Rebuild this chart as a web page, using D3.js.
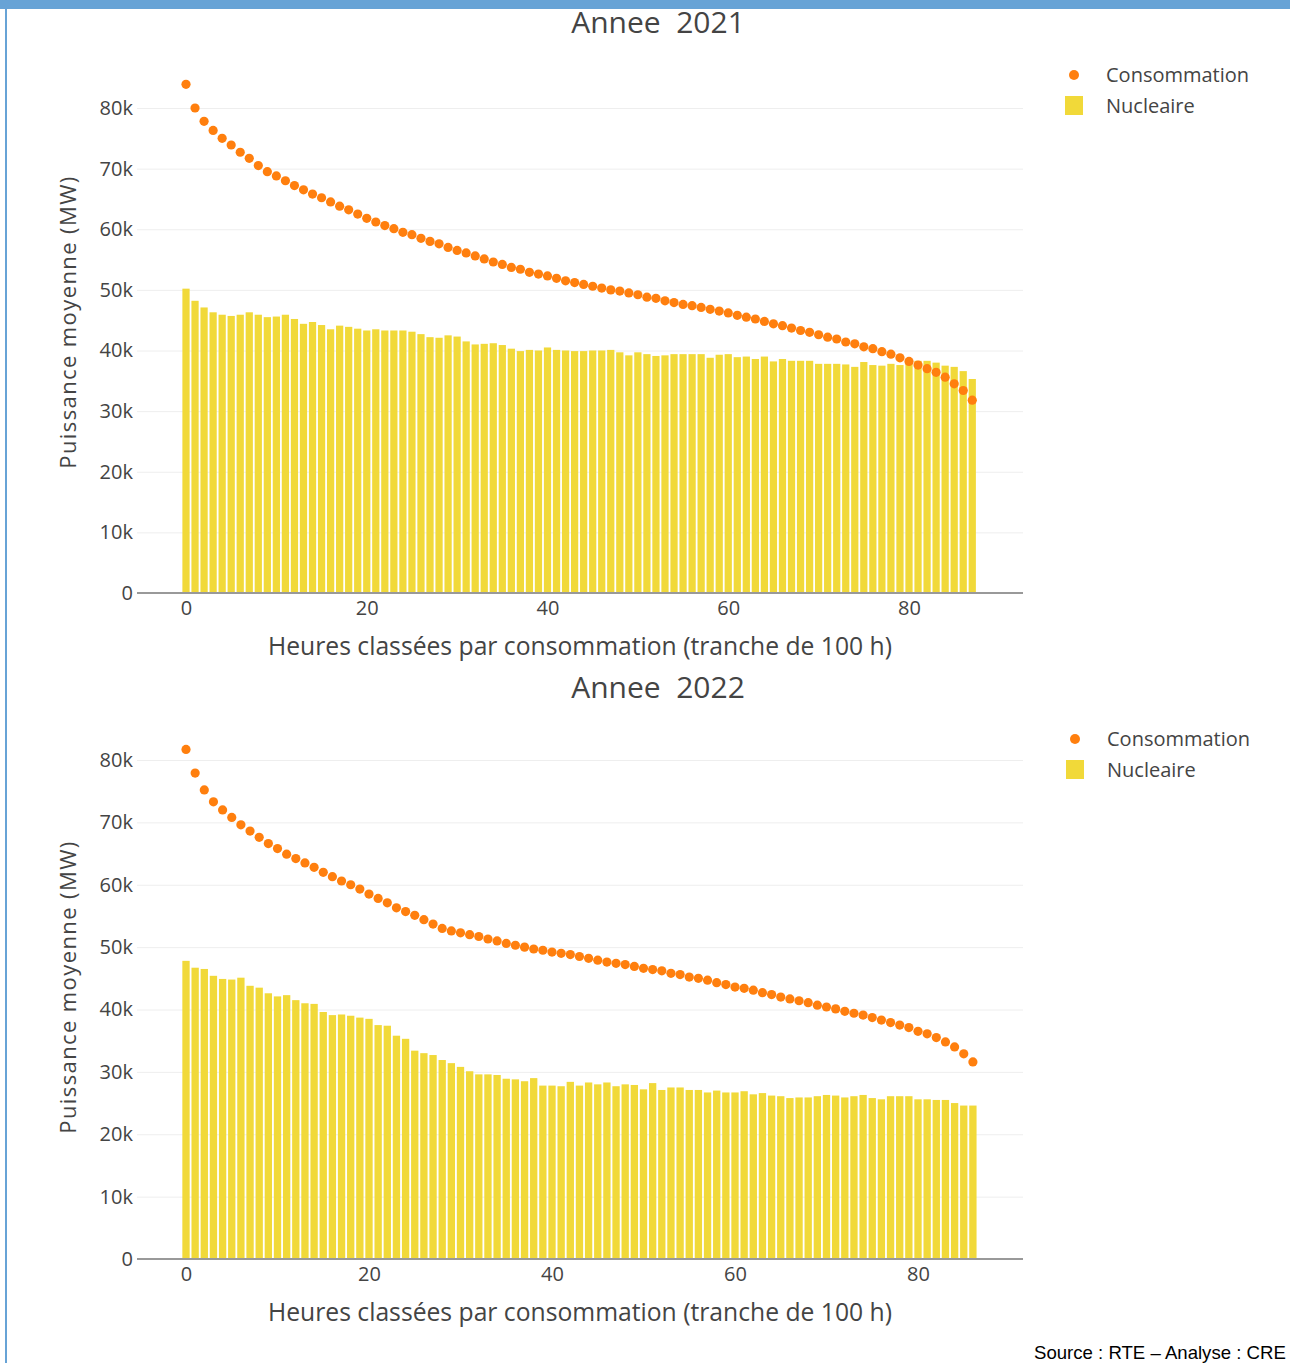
<!DOCTYPE html>
<html>
<head>
<meta charset="utf-8">
<script src="https://cdn.jsdelivr.net/npm/d3@7"></script>
<style>
  html, body { margin: 0; padding: 0; background: #fff; }
  svg { display: block; }
  text { font-family: "Open Sans", sans-serif; }
</style>
</head>
<body>
<svg id="chart" width="1290" height="1363"></svg>
<script>
// ---------- DATA (values in MW) ----------
const years = ["2021", "2022"];
const seriesNames = ["Consommation", "Nucleaire"];
const xTickValues = [0, 20, 40, 60, 80];
const yTickValues = [0, 10000, 20000, 30000, 40000, 50000, 60000, 70000, 80000];
const yTickLabels = ["0", "10k", "20k", "30k", "40k", "50k", "60k", "70k", "80k"];

const consommation2021 = [83.9, 80.0, 77.8, 76.3, 75.0, 73.9, 72.7, 71.7, 70.5, 69.5,
  68.8, 68.0, 67.2, 66.5, 65.8, 65.2, 64.5, 63.8, 63.2, 62.5,
  61.8, 61.2, 60.6, 60.1, 59.5, 59.1, 58.5, 58.0, 57.6, 57.0,
  56.5, 56.1, 55.6, 55.1, 54.6, 54.2, 53.7, 53.4, 52.9, 52.6,
  52.3, 51.9, 51.5, 51.2, 50.9, 50.6, 50.3, 50.0, 49.8, 49.5,
  49.2, 48.8, 48.6, 48.2, 47.9, 47.6, 47.4, 47.1, 46.8, 46.5,
  46.2, 45.8, 45.5, 45.2, 44.8, 44.4, 44.1, 43.7, 43.3, 43.0,
  42.6, 42.2, 41.9, 41.4, 41.1, 40.6, 40.3, 39.8, 39.4, 38.8,
  38.2, 37.6, 37.0, 36.4, 35.6, 34.5, 33.4, 31.8].map(v => v * 1000);

const nucleaire2021 = [50.2, 48.2, 47.1, 46.3, 45.9, 45.7, 45.9, 46.3, 45.9, 45.5,
  45.6, 45.9, 45.2, 44.4, 44.7, 44.2, 43.5, 44.1, 43.9, 43.6,
  43.3, 43.5, 43.3, 43.3, 43.3, 43.1, 42.7, 42.2, 42.1, 42.5,
  42.3, 41.5, 41.0, 41.1, 41.2, 40.9, 40.3, 39.9, 40.1, 40.0,
  40.5, 40.1, 40.0, 39.9, 39.9, 40.0, 40.0, 40.1, 39.7, 39.2,
  39.7, 39.4, 39.1, 39.2, 39.4, 39.4, 39.4, 39.4, 38.8, 39.3,
  39.4, 38.9, 39.0, 38.6, 39.0, 38.2, 38.6, 38.3, 38.3, 38.3,
  37.8, 37.8, 37.8, 37.7, 37.3, 38.1, 37.6, 37.5, 37.8, 37.6,
  38.3, 38.3, 38.3, 38.0, 37.5, 37.3, 36.6, 35.3].map(v => v * 1000);

const consommation2022 = [81.7, 77.9, 75.2, 73.3, 72.0, 70.8, 69.6, 68.6, 67.6, 66.6,
  65.8, 64.9, 64.2, 63.5, 62.8, 62.0, 61.3, 60.6, 60.0, 59.3,
  58.5, 57.8, 57.1, 56.3, 55.7, 55.1, 54.4, 53.7, 53.0, 52.6,
  52.3, 52.0, 51.7, 51.3, 51.0, 50.6, 50.3, 50.0, 49.7, 49.5,
  49.2, 49.0, 48.8, 48.5, 48.2, 47.9, 47.6, 47.4, 47.2, 46.9,
  46.6, 46.4, 46.2, 45.8, 45.6, 45.2, 45.0, 44.7, 44.3, 44.0,
  43.6, 43.4, 43.1, 42.7, 42.4, 42.0, 41.7, 41.4, 41.1, 40.7,
  40.4, 40.1, 39.7, 39.4, 39.1, 38.7, 38.3, 37.9, 37.5, 37.1,
  36.5, 36.1, 35.5, 34.8, 34.0, 32.9, 31.6].map(v => v * 1000);

const nucleaire2022 = [47.8, 46.7, 46.5, 45.4, 44.9, 44.8, 45.1, 43.8, 43.5, 42.6,
  42.1, 42.3, 41.5, 41.0, 40.9, 39.6, 39.1, 39.2, 39.0, 38.7,
  38.5, 37.5, 37.4, 35.8, 35.3, 33.4, 33.0, 32.7, 31.9, 31.4,
  30.8, 30.1, 29.6, 29.6, 29.5, 28.9, 28.8, 28.5, 29.0, 27.8,
  27.8, 27.7, 28.4, 27.8, 28.3, 28.0, 28.3, 27.7, 28.0, 27.9,
  27.2, 28.2, 27.1, 27.5, 27.5, 27.1, 27.1, 26.7, 27.0, 26.7,
  26.7, 26.9, 26.4, 26.6, 26.2, 26.1, 25.8, 25.9, 25.9, 26.1,
  26.3, 26.2, 25.9, 26.1, 26.3, 25.8, 25.6, 26.1, 26.1, 26.1,
  25.6, 25.6, 25.5, 25.5, 25.0, 24.6, 24.6].map(v => v * 1000);

const titles = ["Annee  2021", "Annee  2022"];
const xAxisTitle = "Heures classées par consommation (tranche de 100 h)";
const yAxisTitle = "Puissance moyenne (MW)";
const sourceText = "Source : RTE \u2013 Analyse : CRE";

// ---------- LAYOUT (positions only) ----------
const panels = [
  { cons: consommation2021, nuc: nucleaire2021, title: titles[0],
    plotLeft: 137, plotRight: 1023, x0: 186, x80: 909, y0: 593, y80: 108,
    titleY: 33, xTitleY: 655, yTitleCenter: 322, legendX: 1074, legendY: 75 },
  { cons: consommation2022, nuc: nucleaire2022, title: titles[1],
    plotLeft: 137, plotRight: 1023, x0: 186, x80: 918, y0: 1259, y80: 760,
    titleY: 698, xTitleY: 1321, yTitleCenter: 987, legendX: 1075, legendY: 739 }
];

const COL_DOT = "#ff7f0e";
const COL_BAR = "#f1d939";
const COL_TEXT = "#444";

const svg = d3.select("#chart");

// page frame (blue band + left rule)
svg.append("rect").attr("x", 0).attr("y", 0).attr("width", 1290).attr("height", 9).attr("fill", "#67a3d6");
svg.append("rect").attr("x", 5).attr("y", 0).attr("width", 2).attr("height", 1363).attr("fill", "#67a3d6");

panels.forEach(p => {
  const x = d3.scaleLinear().domain([0, 80]).range([p.x0, p.x80]);
  const y = d3.scaleLinear().domain([0, 80000]).range([p.y0, p.y80]);
  const step = x(1) - x(0);
  const g = svg.append("g");

  // y axis with gridlines
  const yAxis = d3.axisLeft(y).tickValues(yTickValues)
    .tickFormat((d, i) => yTickLabels[i])
    .tickSize(-(p.plotRight - p.plotLeft)).tickPadding(4);
  const ya = g.append("g").attr("transform", `translate(${p.plotLeft},0)`).call(yAxis);
  ya.select(".domain").remove();
  ya.selectAll(".tick line").attr("stroke", "#eee").attr("stroke-width", 1);
  ya.selectAll(".tick text").attr("fill", COL_TEXT).style("font-size", "20px")
    .style("font-family", "'Open Sans', sans-serif");

  // bars
  g.append("g").selectAll("rect").data(p.nuc).join("rect")
    .attr("x", (d, i) => x(i) - step * 0.4)
    .attr("width", step * 0.8)
    .attr("y", d => y(d))
    .attr("height", d => y(0) - y(d))
    .attr("fill", COL_BAR);

  // zero line
  g.append("line").attr("x1", p.plotLeft).attr("x2", p.plotRight)
    .attr("y1", y(0)).attr("y2", y(0)).attr("stroke", "#999").attr("stroke-width", 2);

  // x axis
  const xAxis = d3.axisBottom(x).tickValues(xTickValues).tickSize(0).tickPadding(8);
  const xa = g.append("g").attr("transform", `translate(0,${y(0)})`).call(xAxis);
  xa.select(".domain").remove();
  xa.selectAll(".tick text").attr("fill", COL_TEXT).style("font-size", "20px")
    .style("font-family", "'Open Sans', sans-serif");

  // dots
  g.append("g").selectAll("circle").data(p.cons).join("circle")
    .attr("cx", (d, i) => x(i)).attr("cy", d => y(d)).attr("r", 4.6)
    .attr("fill", COL_DOT);

  // titles
  g.append("text").attr("x", 658).attr("y", p.titleY).attr("text-anchor", "middle")
    .style("white-space", "pre").attr("fill", COL_TEXT).style("font-size", "30px")
    .text(p.title);
  g.append("text").attr("x", 580).attr("y", p.xTitleY).attr("text-anchor", "middle")
    .attr("fill", COL_TEXT).style("font-size", "24.7px").text(xAxisTitle);
  g.append("text").attr("transform", `translate(76,${p.yTitleCenter}) rotate(-90)`)
    .attr("text-anchor", "middle").attr("fill", COL_TEXT).style("font-size", "22px")
    .style("letter-spacing", "1.4px")
    .text(yAxisTitle);

  // legend
  const lg = g.append("g");
  lg.append("circle").attr("cx", p.legendX).attr("cy", p.legendY).attr("r", 5).attr("fill", COL_DOT);
  lg.append("rect").attr("x", p.legendX - 9).attr("y", p.legendY + 21).attr("width", 18).attr("height", 19).attr("fill", COL_BAR);
  lg.append("text").attr("x", p.legendX + 32).attr("y", p.legendY).attr("dy", "0.35em")
    .attr("fill", COL_TEXT).style("font-size", "20px").text(seriesNames[0]);
  lg.append("text").attr("x", p.legendX + 32).attr("y", p.legendY + 31).attr("dy", "0.35em")
    .attr("fill", COL_TEXT).style("font-size", "20px").text(seriesNames[1]);
});

// source
svg.append("text").attr("x", 1034).attr("y", 1359)
  .style("font-family", "'Liberation Sans', Arial, sans-serif").style("font-size", "18.6px")
  .attr("fill", "#000").text(sourceText);
</script>
</body>
</html>
